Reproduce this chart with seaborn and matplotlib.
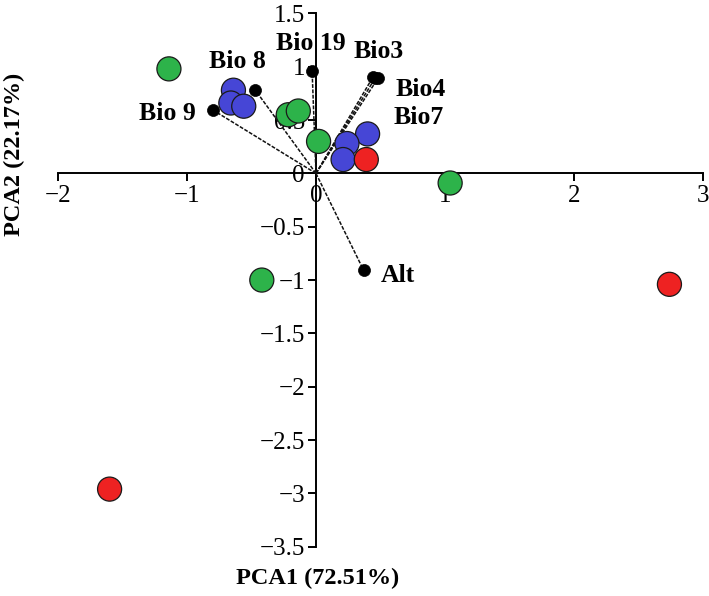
import matplotlib
matplotlib.use("Agg")
import matplotlib.pyplot as plt
import seaborn as sns
import pandas as pd

# ---- data ----
site_group = ["G", "G", "G", "G", "G", "G", "B", "B", "B", "B", "B", "B", "R", "R", "R"]
pc1 = [-1.14, -0.215, -0.137, 0.02, 1.04, -0.42,
       -0.64, -0.66, -0.56, 0.40, 0.24, 0.21,
       0.39, 2.74, -1.60]
pc2 = [0.98, 0.55, 0.585, 0.30, -0.09, -1.00,
       0.78, 0.66, 0.63, 0.37, 0.28, 0.13,
       0.13, -1.04, -2.96]

var_names = ["Bio 19", "Bio 8", "Bio 9", "Bio3", "Bio4", "Bio7", "Alt"]
load1 = [-0.03, -0.47, -0.80, 0.44, 0.46, 0.48, 0.37]
load2 = [0.96, 0.78, 0.595, 0.90, 0.895, 0.89, -0.91]

x_ticks = [-2, -1, 0, 1, 2, 3]
y_ticks = [-3.5, -3, -2.5, -2, -1.5, -1, -0.5, 0, 0.5, 1, 1.5]

sites = pd.DataFrame({"PC1": pc1, "PC2": pc2, "group": site_group})
loads = pd.DataFrame({"PC1": load1, "PC2": load2, "var": var_names})

sns.set_style("white")
plt.rcParams["font.family"] = ["Liberation Serif", "DejaVu Serif"]
plt.rcParams["text.color"] = "black"
plt.rcParams["xtick.color"] = "black"
plt.rcParams["ytick.color"] = "black"

fig = plt.figure(figsize=(7.09, 5.96), dpi=100)
ax = fig.add_axes([0.0818, 0.0827, 0.9097, 0.8948])

# loading vectors
for x, y in zip(loads["PC1"], loads["PC2"]):
    ax.plot([0, x], [0, y], color="#111111", lw=1.1, ls=(0, (2.5, 1)), zorder=2)

palette = {"G": "#2db34a", "B": "#4646d6", "R": "#ee2222"}
sns.scatterplot(data=sites, x="PC1", y="PC2", hue="group", palette=palette,
                s=300, edgecolor="#1a1a1a", linewidth=0.9, legend=False, ax=ax, zorder=3)
sns.scatterplot(data=loads, x="PC1", y="PC2", color="black", s=75,
                edgecolor="black", linewidth=0.5, legend=False, ax=ax, zorder=4)

# label centres in figure pixels (from top-left)
label_pos = {
    "Bio 19": (311, 43), "Bio 8": (237, 62), "Bio 9": (167, 113),
    "Bio3": (379, 51), "Bio4": (421, 90), "Bio7": (419, 118), "Alt": (398, 275),
}
for name, x, y in zip(loads["var"], loads["PC1"], loads["PC2"]):
    px, py = label_pos[name]
    ax.annotate(name, xy=(x, y), xycoords="data",
                xytext=(px, 596 - py), textcoords="figure pixels",
                ha="center", va="center", fontsize=18.5, fontweight="bold",
                color="black", zorder=5)

ax.set_xlim(-2, 3)
ax.set_ylim(-3.5, 1.5)
ax.set_xticks(x_ticks)
ax.set_yticks(y_ticks)
ax.set_xticklabels([f"{t:g}".replace("-", "\u2212") for t in x_ticks])
ax.set_yticklabels([f"{t:g}".replace("-", "\u2212") for t in y_ticks])

for side in ["top", "right"]:
    ax.spines[side].set_visible(False)
ax.spines["left"].set_position(("data", 0))
ax.spines["bottom"].set_position(("data", 0))
for side in ["left", "bottom"]:
    ax.spines[side].set_color("black")
    ax.spines[side].set_linewidth(1.4)
    ax.spines[side].set_zorder(1)
ax.tick_params(axis="both", direction="out", length=6, width=1.4, color="black",
               labelcolor="black", labelsize=18, bottom=True, left=True, pad=2)
ax.set_xlabel("")
ax.set_ylabel("")

fig.text(318 / 709, 1 - 578 / 596, "PCA1 (72.51%)", ha="center", va="center",
         fontsize=17.5, fontweight="bold")
fig.text(14 / 709, 1 - 154 / 596, "PCA2 (22.17%)", ha="center", va="center",
         fontsize=17.5, fontweight="bold", rotation=90)

fig.savefig("out.png", dpi=100)
